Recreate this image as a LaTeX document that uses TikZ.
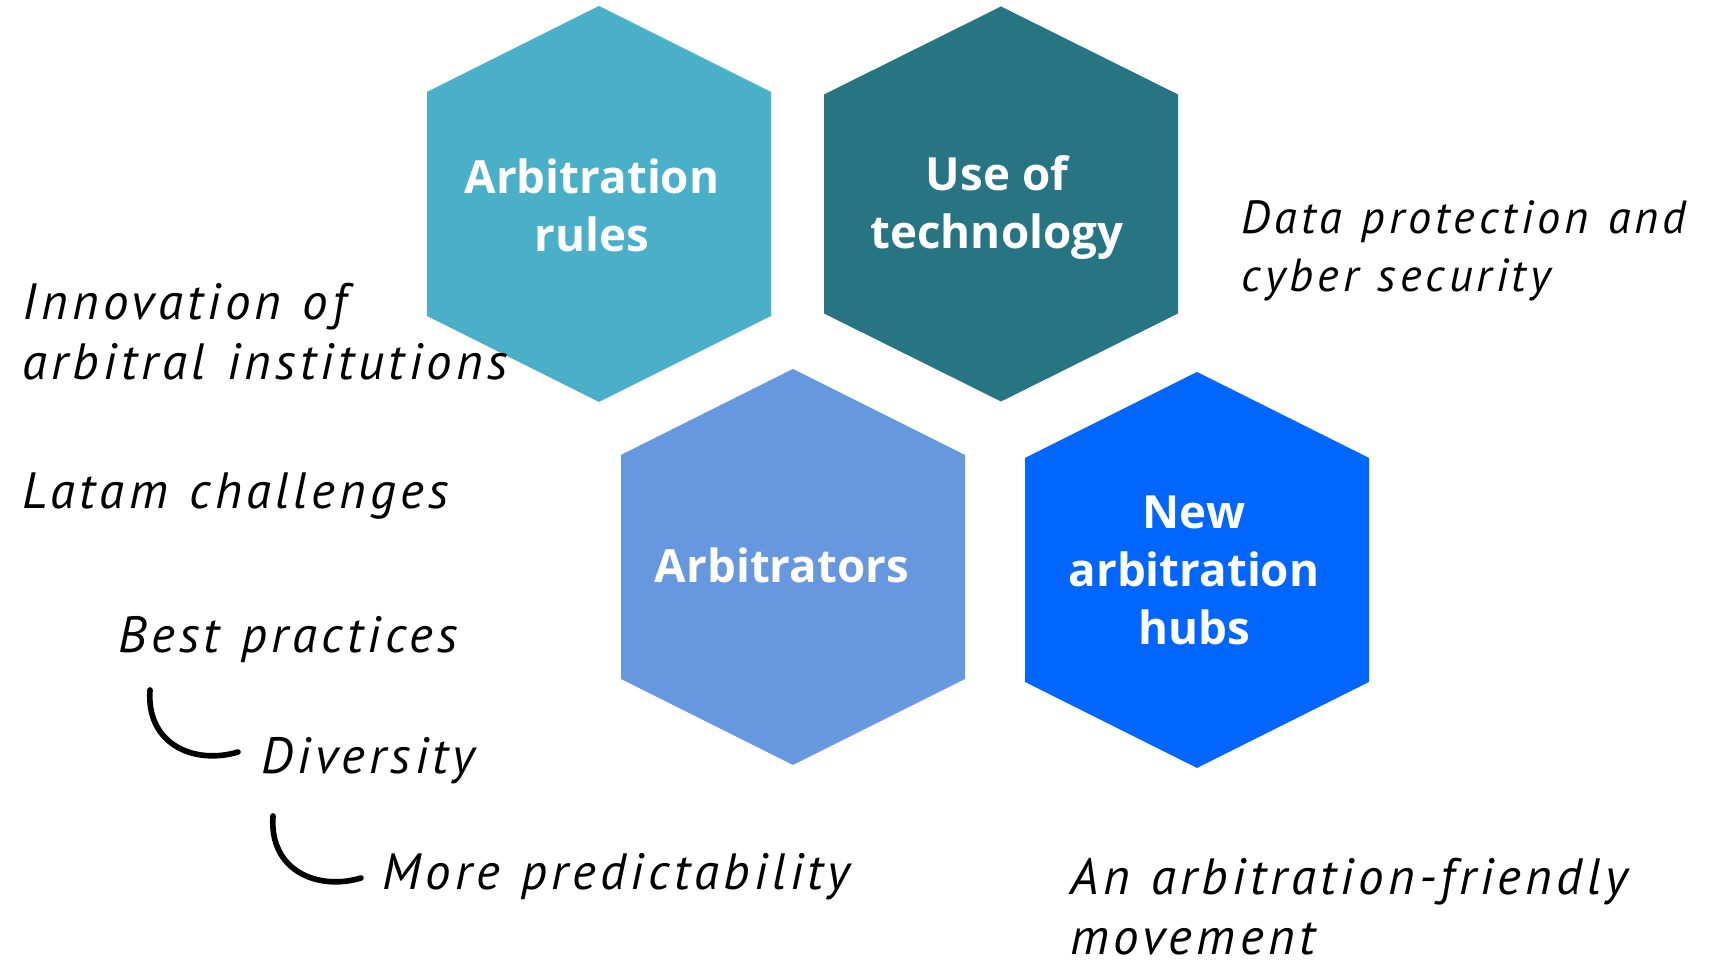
\documentclass[tikz,border=0pt]{standalone}
\usepackage{fontspec}
\newfontfamily\hexfont{Open Sans}
\newfontfamily\notefont{PT Sans}[LetterSpace=8.5, WordSpace=1.2]
\definecolor{hexA}{HTML}{4AAFC8}
\definecolor{hexB}{HTML}{277483}
\definecolor{hexC}{HTML}{6797DF}
\definecolor{hexD}{HTML}{0066FF}
% hexagon with a pointed top: #1 centre, #2 half width, #3 shoulder drop, #4 side length
\newcommand{\hexpath}[4]{(#1) ++(0,{-(#3)-(#4)/2}) -- ++(#2,#3) -- ++(0,#4)
  -- ++(-#2,#3) -- ++(-#2,-#3) -- ++(0,-#4) -- cycle}
\begin{document}
\begin{tikzpicture}[x=0.01cm, y=-0.01cm,
  hexlabel/.style={text=white, font=\hexfont\bfseries\fontsize{13}{16.5}\selectfont,
    align=center, inner sep=0pt},
  note/.style={font=\notefont\itshape\fontsize{14.5}{17.1}\selectfont,
    anchor=base west, align=left, inner sep=0pt},
  hook/.style={line width=1.6pt, line cap=round}]
\useasboundingbox (0,0) rectangle (1727,962);

% hexagon centres
\coordinate (rules) at (599,204);
\coordinate (tech)  at (1001,204);
\coordinate (arbs)  at (793,567);
\coordinate (hubs)  at (1197,570);

% hexagons
\fill[hexA] \hexpath{rules}{172}{86}{224};
\fill[hexB] \hexpath{tech}{177}{88}{219};
\fill[hexC] \hexpath{arbs}{172}{86}{224};
\fill[hexD] \hexpath{hubs}{172}{86}{224};

% hexagon captions
\node[hexlabel] (rulesT) at (592,205) {Arbitration\\rules};
\node[hexlabel] (techT)  at (997,208) {Use of\\technology};
\node[hexlabel] (arbsT)  at (782,565) {Arbitrators};
\node[hexlabel] (hubsT)  at (1194,570) {New\\arbitration\\hubs};

% notes (anchored on the baseline of their last line)
\node[note] (innov)    at (22,380)   {Innovation of\\arbitral institutions};
\node[note] (latam)    at (22,509)   {Latam challenges};
\node[note] (best)     at (118,653)  {Best practices};
\node[note] (div)      at (261,774)  {Diversity};
\node[note] (pred)     at (382,890)  {More predictability};
\node[note, font=\notefont\itshape\fontsize{13.2}{16.5}\selectfont]
                   (data)     at (1241,292) {Data protection and\\cyber security};
\node[note] (friendly) at (1070,955) {An arbitration-friendly\\movement};

% curved hooks leading from one note to the next
\coordinate (hookAs) at (150,690);
\coordinate (hookAe) at (238,752);
\coordinate (hookBs) at (273,816);
\coordinate (hookBe) at (361,878);
\draw[hook] (hookAs) .. controls (146,745) and (195,765) .. (hookAe);
\draw[hook] (hookBs) .. controls (269,871) and (318,891) .. (hookBe);
\end{tikzpicture}
\end{document}
